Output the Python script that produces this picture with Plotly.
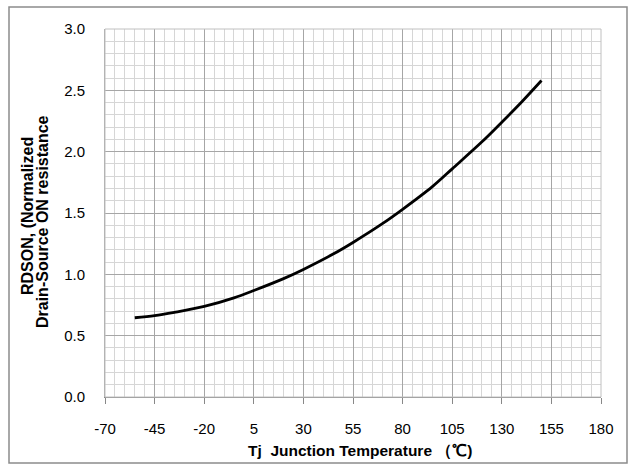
import plotly.graph_objects as go

temps = [-55, -45, -35, -20, -5, 5, 20, 30, 45, 55, 70, 80, 95, 105, 120, 130, 140, 150]
rdson = [0.646, 0.663, 0.690, 0.738, 0.808, 0.868, 0.965, 1.040, 1.165, 1.260, 1.415,
         1.530, 1.715, 1.860, 2.080, 2.240, 2.405, 2.580]

x_ticks = [-70, -45, -20, 5, 30, 55, 80, 105, 130, 155, 180]
y_ticks = [0.0, 0.5, 1.0, 1.5, 2.0, 2.5, 3.0]

y_title_lines = ["RDSON, (Normalized", "Drain-Source ON resistance"]
x_title = "Tj  Junction Temperature （℃)"

fig = go.Figure()
fig.add_trace(go.Scatter(x=temps, y=rdson, mode="lines",
                         line=dict(color="black", width=2.8, shape="spline", smoothing=0.9),
                         showlegend=False, hoverinfo="skip"))

font_main = "Arial, Liberation Sans, sans-serif"
L, T, W, H = 105, 29, 496, 368

def px(xp):
    return (xp - L) / W

def py(yp):
    return (T + H - yp) / H

fig.update_layout(
    width=631, height=469,
    margin=dict(l=105, r=30, t=29, b=72, autoexpand=False),
    paper_bgcolor="white", plot_bgcolor="white",
    font=dict(family=font_main, size=15, color="black"),
    xaxis=dict(
        range=[-70, 180], tickvals=x_ticks, ticktext=[str(v) for v in x_ticks],
        showgrid=True, gridcolor="#a6a6a6", gridwidth=1,
        minor=dict(dtick=5, tick0=-70, showgrid=True, gridcolor="#d6d6d6", gridwidth=1),
        showline=True, linecolor="#888888", linewidth=1, mirror=False,
        ticks="outside", ticklen=6, tickcolor="#888888", ticklabelstandoff=12,
        tickfont=dict(size=15), zeroline=False,
    ),
    yaxis=dict(
        range=[0, 3], tickvals=y_ticks, ticktext=[f"{v:.1f}" for v in y_ticks],
        showgrid=True, gridcolor="#a6a6a6", gridwidth=1,
        minor=dict(dtick=0.1, tick0=0, showgrid=True, gridcolor="#d6d6d6", gridwidth=1),
        showline=True, linecolor="#a6a6a6", linewidth=1,
        ticks="", ticklabelstandoff=16, tickfont=dict(size=15), zeroline=False,
    ),
    annotations=[
        dict(text=f"<b>{y_title_lines[0]}</b>", xref="paper", yref="paper",
             x=px(27), y=py(216), textangle=-90, showarrow=False,
             xanchor="center", yanchor="middle", font=dict(size=16)),
        dict(text=f"<b>{y_title_lines[1]}</b>", xref="paper", yref="paper",
             x=px(43), y=py(222), textangle=-90, showarrow=False,
             xanchor="center", yanchor="middle", font=dict(size=16)),
        dict(text=f"<b>{x_title}</b>", xref="paper", yref="paper",
             x=px(360), y=py(451), showarrow=False,
             xanchor="center", yanchor="middle",
             font=dict(size=15.5, family="Liberation Sans Narrow, Arial Narrow, Arial, sans-serif")),
    ],
    shapes=[
        dict(type="rect", xref="paper", yref="paper",
             x0=px(9), x1=px(627), y0=py(463), y1=py(7),
             line=dict(color="#8c8c8c", width=1.5), fillcolor="rgba(0,0,0,0)", layer="below"),
        dict(type="rect", xref="paper", yref="paper", x0=0, x1=1, y0=0, y1=1,
             line=dict(color="#c0c0c0", width=1), fillcolor="rgba(0,0,0,0)", layer="above"),
    ],
)

fig.write_html("out.html", config={"displayModeBar": False},
               post_script="document.body.style.margin='0';")
